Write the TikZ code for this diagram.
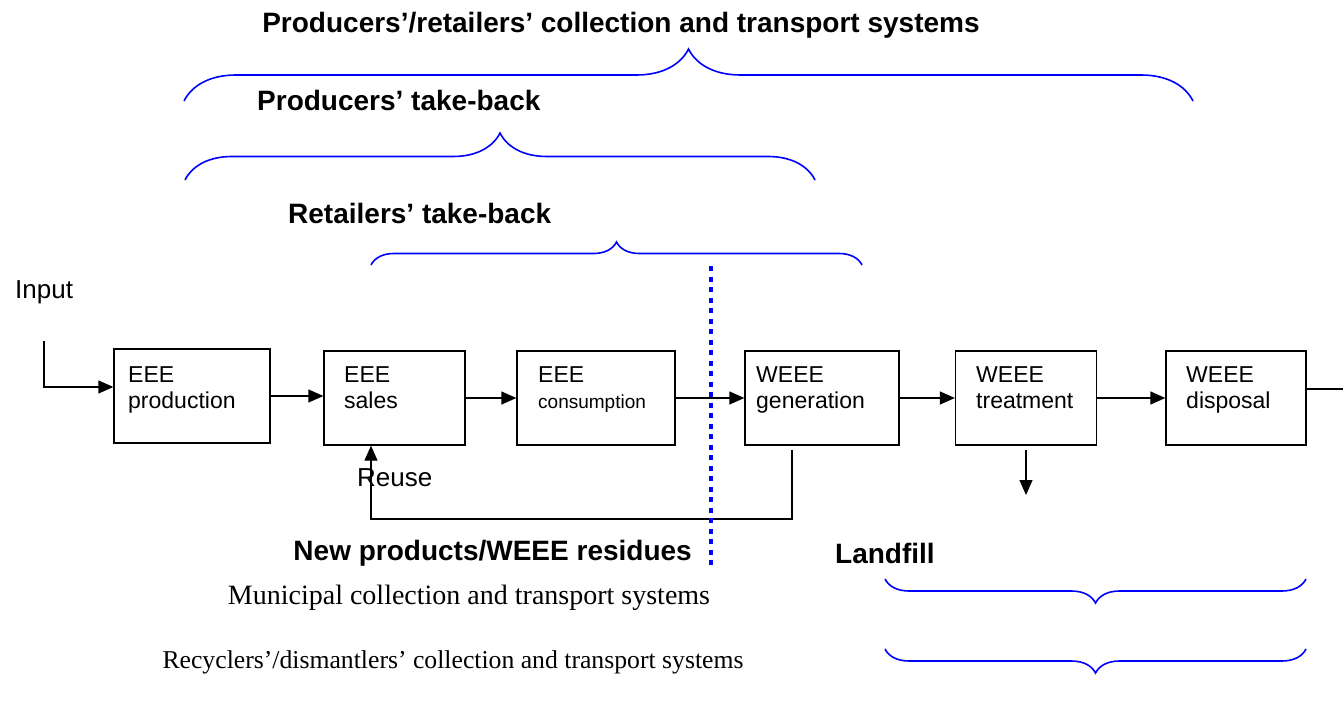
\documentclass[tikz,border=0pt]{standalone}
\usepackage{fontspec}
\setmainfont{Liberation Sans}
\newfontfamily\timesfont{Liberation Serif}
\usetikzlibrary{arrows.meta,decorations.pathreplacing,positioning}

\tikzset{
  stage/.style={draw, line width=1.3pt, minimum height=94pt, inner sep=0pt},
  stagetext/.style={anchor=north west, inner sep=0pt, align=left, font=\fontsize{23}{26}\selectfont},
  flow/.style={line width=1.3pt, -{Triangle[length=15pt,width=13pt]}},
  wire/.style={line width=1.3pt},
  grp/.style={draw=blue, line width=1.6pt, decorate, decoration={brace, amplitude=#1}},
  heading/.style={font=\fontsize{28}{32}\selectfont\bfseries, inner sep=0pt},
  plain/.style={font=\fontsize{26}{30}\selectfont, inner sep=0pt},
  serifnote/.style={font=\fontsize{28}{32}\timesfont, inner sep=0pt}
}

\begin{document}
\begin{tikzpicture}[x=1pt,y=-1pt]
  \useasboundingbox (0,0) rectangle (1343,703);
  % process boxes
  \node[stage, minimum width=156pt] (prod)  at (192,396)  {};
  \node[stage, minimum width=141pt] (sales) at (394.5,398) {};
  \node[stage, minimum width=158pt] (cons)  at (596,398)  {};
  \node[stage, minimum width=154pt] (gen)   at (822,398)  {};
  \node[stage, minimum width=141pt] (treat) at (1026,398) {};
  \node[stage, minimum width=140pt] (disp)  at (1236,398) {};
  % box texts
  \node[stagetext] (prodtxt)  at (128,366)  {EEE\\production};
  \node[stagetext] (salestxt) at (344,366)  {EEE\\sales};
  \node[stagetext] (constxt)  at (538,366)  {EEE\\{\fontsize{19}{22}\selectfont consumption}};
  \node[stagetext] (gentxt)   at (756,366)  {WEEE\\generation};
  \node[stagetext] (treattxt) at (976,366)  {WEEE\\treatment};
  \node[stagetext] (disptxt)  at (1186,366) {WEEE\\disposal};
  % main flow
  \coordinate (intop) at (44,341);
  \draw[flow] (intop) |- ([shift={(0,-9)}]prod.west);
  \draw[flow] (prod.east) -- (prod.east -| sales.west);
  \draw[flow] (sales) -- (cons);
  \draw[flow] (cons) -- (gen);
  \draw[flow] (gen) -- (treat);
  \draw[flow] (treat) -- (disp);
  \coordinate (outend) at (1343,389);
  \draw[wire] (disp.east |- outend) -- (outend);
  % reuse loop
  \coordinate (loopcorner) at (371,519);
  \draw[flow] ([shift={(-30,4)}]gen.south) |- (loopcorner) -- (loopcorner |- sales.south);
  % to landfill
  \coordinate (lfend) at (1026,495);
  \draw[flow] ([shift={(0,4)}]treat.south) -- (lfend);
  % divider
  \coordinate (divtop) at (711,266);
  \coordinate (divbot) at (711,570);
  \draw[blue, line width=4.5pt, dash pattern=on 5pt off 5.5pt] (divtop) -- (divbot);
  % braces
  \draw[grp=52] (184,101) -- (1193,101);
  \draw[grp=47] (185,180) -- (815,180);
  \draw[grp=23] (371,265) -- (862,265);
  \draw[grp=24] (1306,579) -- (885,579);
  \draw[grp=24] (1306,649) -- (885,649);
  % labels
  \node[heading] (alltitle) at (621,25) {Producers’/retailers’ collection and transport systems};
  \node[heading, anchor=west] (prodtitle) at (257,100) {Producers’ take-back};
  \node[heading, anchor=west] (rettitle) at (288,213) {Retailers’ take-back};
  \node[heading, anchor=east] (newlbl) at (692,553) {New products/WEEE residues};
  \node[heading, anchor=west] (lflbl) at (835,553) {Landfill};
  \node[plain, anchor=west] (inputlbl) at (15,292) {Input};
  \node[plain, anchor=west] (reuselbl) at (357,478) {Reuse};
  \node[serifnote] (munilbl) at (469,598) {Municipal collection and transport systems};
  \node[serifnote, font=\fontsize{25.7}{30}\timesfont] (recylbl) at (453,662) {Recyclers’/dismantlers’ collection and transport systems};
\end{tikzpicture}
\end{document}
